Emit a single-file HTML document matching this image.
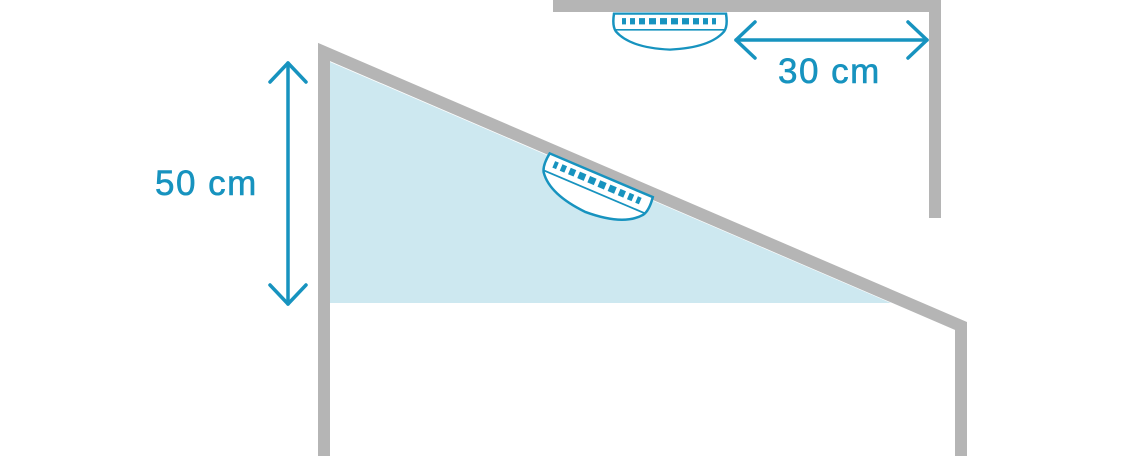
<!DOCTYPE html>
<html><head><style>
html,body{margin:0;padding:0;background:#fff;}
svg{display:block;}
text{font-family:"Liberation Sans",sans-serif;fill:#1793bf;font-size:35px;letter-spacing:1.5px;stroke:#1793bf;stroke-width:0.6px;}
</style></head><body>
<svg width="1125" height="456" viewBox="0 0 1125 456" xmlns="http://www.w3.org/2000/svg">
<defs>
<g id="det">
  <path d="M-56,-16 Q-58,-2 -54,4 Q-40,22 0,24 Q40,22 54,4 Q58,-2 56,-16 Z" fill="#fff" stroke="#1793bf" stroke-width="2.5"/>
  <line x1="-55" y1="2" x2="55" y2="2" stroke="#1793bf" stroke-width="1.8"/>
  <g fill="#1793bf">
    <rect x="-48" y="-11" width="4" height="7"/><rect x="-40" y="-11" width="5" height="7"/>
    <rect x="-31" y="-11" width="6" height="7"/><rect x="-21" y="-11" width="7" height="7"/>
    <rect x="-10" y="-11" width="7" height="7"/><rect x="1" y="-11" width="7" height="7"/>
    <rect x="12" y="-11" width="7" height="7"/><rect x="23" y="-11" width="6" height="7"/>
    <rect x="33" y="-11" width="5" height="7"/><rect x="42" y="-11" width="4" height="7"/>
  </g>
</g>
</defs>
<polygon points="330,62 891,303 330,303" fill="#cde8f0"/>
<polyline points="324,456 324,52 961,326 961,456" fill="none" stroke="#b5b5b5" stroke-width="12" stroke-linejoin="miter"/>
<polyline points="553,6 935,6 935,218" fill="none" stroke="#b5b5b5" stroke-width="12"/>
<use href="#det" transform="translate(670,28) scale(1,0.9)"/>
<use href="#det" transform="translate(595,190) rotate(23)"/>
<g stroke="#1793bf" stroke-width="3.5" fill="none" stroke-linecap="round" stroke-linejoin="round">
  <line x1="288" y1="63" x2="288" y2="304"/>
  <polyline points="270,82 288,63 306,82"/>
  <polyline points="270,285 288,304 306,285"/>
  <line x1="736" y1="40" x2="927" y2="40"/>
  <polyline points="755,22 736,40 755,58"/>
  <polyline points="908,22 927,40 908,58"/>
</g>
<text x="155" y="195">50 cm</text>
<text x="778" y="83">30 cm</text>
</svg>
</body></html>
